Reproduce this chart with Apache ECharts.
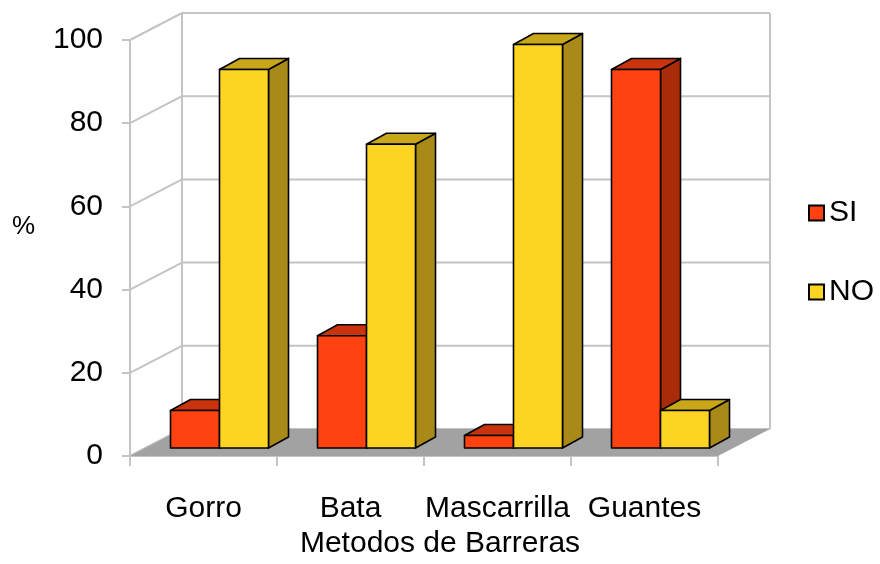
<!DOCTYPE html>
<html>
<head>
<meta charset="utf-8">
<title>Metodos de Barreras</title>
<script src="https://cdn.jsdelivr.net/npm/echarts@6/dist/echarts.min.js"></script>
<style>
  html, body { margin: 0; padding: 0; background: #ffffff; }
  #chart { width: 880px; height: 564px; }
</style>
</head>
<body>
<div id="chart"></div>
<script>
// Barrier methods: share of SI / NO answers (%)
const categories = ['Gorro', 'Bata', 'Mascarrilla', 'Guantes'];
const siValues = [9, 27, 3, 91];
const noValues = [91, 73, 97, 9];
const yTicks = [0, 20, 40, 60, 80, 100];
const seriesNames = ['SI', 'NO'];

// Pseudo-3D geometry (pixels)
const WALL_DX = 52, WALL_DY = -27;   // depth of the side wall / floor
const BAR_OFF_X = 16, BAR_OFF_Y = -8; // bars stand slightly inside the floor
const BAR_DX = 20, BAR_DY = -11;     // thickness of each bar
const FONT = "'Liberation Sans', Arial, sans-serif";
const GRID_COLOR = '#c4c4c4';

const palette = {
  SI: { front: '#ff4210', top: '#c9340f', side: '#a92b0a' },
  NO: { front: '#fdd422', top: '#c9a71b', side: '#a98a19' }
};

// Side wall diagonals, back wall grid lines and the grey floor
function renderFrame(params, api) {
  const cs = params.coordSys;
  const L = cs.x, R = cs.x + cs.width;
  const y = api.coord([0, api.value(1)])[1];
  const lineStyle = { stroke: GRID_COLOR, lineWidth: 2, fill: null };
  const children = [
    { type: 'line', z2: 1, shape: { x1: L, y1: y, x2: L + WALL_DX, y2: y + WALL_DY }, style: lineStyle },
    { type: 'line', z2: 1, shape: { x1: L + WALL_DX, y1: y + WALL_DY, x2: R + WALL_DX, y2: y + WALL_DY }, style: lineStyle }
  ];
  if (params.dataIndex === 0) {
    const yTop = api.coord([0, yTicks[yTicks.length - 1]])[1] + WALL_DY;
    const yBot = y + WALL_DY;
    children.push(
      { type: 'line', z2: 1, shape: { x1: L + WALL_DX, y1: yTop, x2: L + WALL_DX, y2: yBot }, style: lineStyle },
      { type: 'line', z2: 1, shape: { x1: R + WALL_DX, y1: yTop, x2: R + WALL_DX, y2: yBot }, style: lineStyle },
      {
        type: 'polygon', z2: 5,
        shape: { points: [[L, y], [R, y], [R + WALL_DX, y + WALL_DY], [L + WALL_DX, y + WALL_DY]] },
        style: { fill: '#a2a2a2', stroke: null }
      }
    );
  }
  return { type: 'group', children: children };
}

// One 3D bar: right side, top and front face
function makeBarRenderer(slot, colors) {
  return function (params, api) {
    const i = api.value(0), v = api.value(1);
    const top = api.coord([i, v]);
    const base = api.coord([i, 0]);
    const band = api.size([1, 0])[0];
    const w = band / 3;
    const x0 = top[0] + (slot === 0 ? -w : 0) + BAR_OFF_X;
    const yt = top[1] + BAR_OFF_Y;
    const yb = base[1] + BAR_OFF_Y;
    const edge = { stroke: '#000', lineWidth: 1.6, lineJoin: 'round' };
    return {
      type: 'group',
      children: [
        {
          type: 'polygon',
          shape: { points: [[x0 + w, yt], [x0 + w + BAR_DX, yt + BAR_DY], [x0 + w + BAR_DX, yb + BAR_DY], [x0 + w, yb]] },
          style: Object.assign({ fill: colors.side }, edge)
        },
        {
          type: 'polygon',
          shape: { points: [[x0, yt], [x0 + w, yt], [x0 + w + BAR_DX, yt + BAR_DY], [x0 + BAR_DX, yt + BAR_DY]] },
          style: Object.assign({ fill: colors.top }, edge)
        },
        {
          type: 'rect',
          shape: { x: x0, y: yt, width: w, height: yb - yt },
          style: Object.assign({ fill: colors.front }, edge)
        }
      ]
    };
  };
}

const chart = echarts.init(document.getElementById('chart'), null, { renderer: 'canvas' });

chart.setOption({
  animation: false,
  backgroundColor: '#ffffff',
  grid: { left: 130, right: 162, top: 40, bottom: 104, containLabel: false },
  graphic: [
    { type: 'text', left: 12, top: 214, style: { text: '%', font: "26px " + FONT, fill: '#000' } }
  ],
  legend: {
    orient: 'vertical',
    left: 808, top: 198,
    padding: 0,
    itemWidth: 15, itemHeight: 15, itemGap: 49,
    icon: 'rect',
    data: seriesNames,
    textStyle: { fontSize: 30, fontFamily: FONT, color: '#000' }
  },
  xAxis: {
    type: 'category',
    data: categories,
    boundaryGap: true,
    name: 'Metodos de Barreras',
    nameLocation: 'middle',
    nameGap: 73,
    nameTextStyle: { fontSize: 30, fontFamily: FONT, color: '#000', padding: [0, 0, 0, 32] },
    axisLine: { show: true, lineStyle: { color: GRID_COLOR, width: 2 } },
    axisTick: { show: true, interval: 0, length: 10, lineStyle: { color: GRID_COLOR, width: 2 } },
    axisLabel: { interval: 0, fontSize: 30, fontFamily: FONT, color: '#000', margin: 38 },
    splitLine: { show: false }
  },
  yAxis: {
    type: 'value',
    min: 0, max: 100, interval: 20,
    axisLine: { show: true, lineStyle: { color: GRID_COLOR, width: 2 } },
    axisTick: { show: true, length: 8, lineStyle: { color: GRID_COLOR, width: 2 } },
    axisLabel: { fontSize: 30, fontFamily: FONT, color: '#000', margin: 27 },
    splitLine: { show: false }
  },
  series: [
    {
      type: 'custom',
      name: 'frame',
      silent: true,
      z: 1,
      renderItem: renderFrame,
      data: yTicks.map(t => [0, t]),
      encode: { x: 0, y: 1 }
    },
    {
      type: 'custom',
      name: seriesNames[0],
      z: 3,
      itemStyle: { color: palette.SI.front, borderColor: '#000', borderWidth: 1 },
      renderItem: makeBarRenderer(0, palette.SI),
      data: siValues.map((v, i) => [i, v]),
      encode: { x: 0, y: 1 }
    },
    {
      type: 'custom',
      name: seriesNames[1],
      z: 4,
      itemStyle: { color: palette.NO.front, borderColor: '#000', borderWidth: 1 },
      renderItem: makeBarRenderer(1, palette.NO),
      data: noValues.map((v, i) => [i, v]),
      encode: { x: 0, y: 1 }
    }
  ]
});
</script>
</body>
</html>
